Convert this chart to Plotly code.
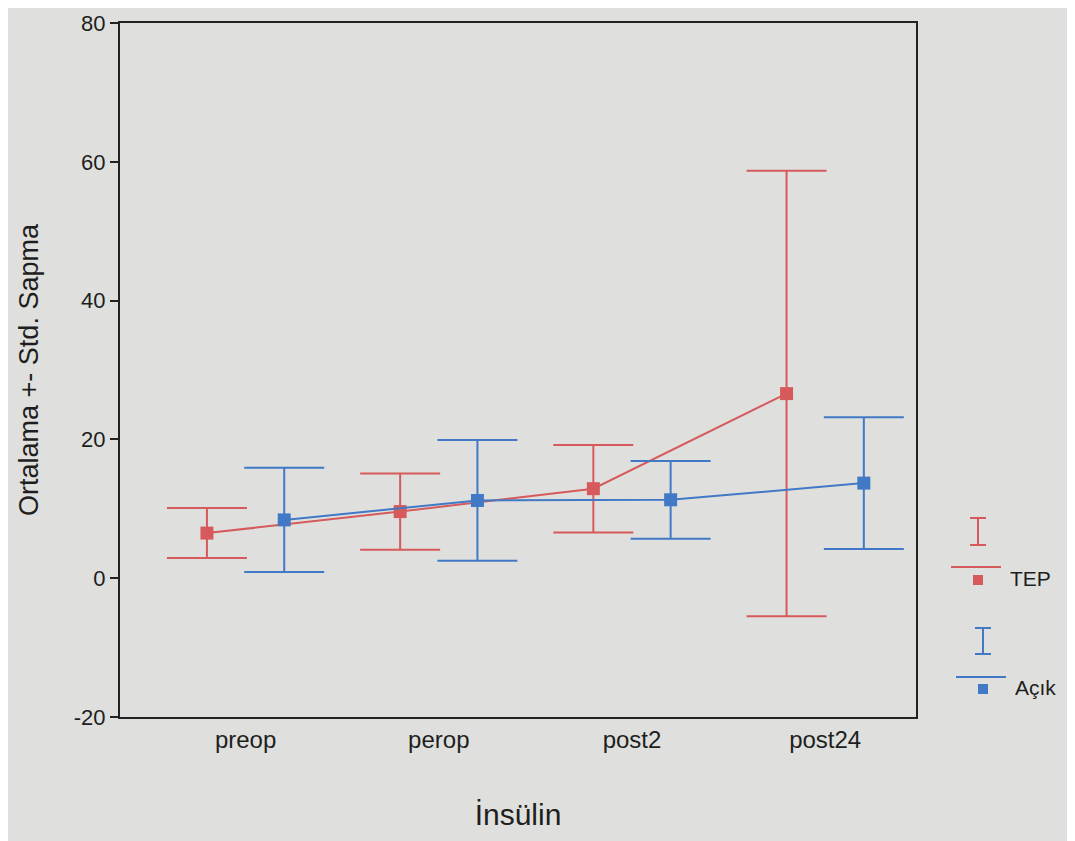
import plotly.graph_objects as go

categories = ["preop", "perop", "post2", "post24"]
tep_mean = [6.5, 9.6, 12.9, 26.6]
tep_sd = [3.6, 5.5, 6.3, 32.1]
acik_mean = [8.4, 11.2, 11.3, 13.7]
acik_sd = [7.5, 8.7, 5.6, 9.5]
y_ticks = [-20, 0, 20, 40, 60, 80]
y_tick_text = ["-20", "0", "20", "40", "60", "80"]

RED = "#d65a5c"
BLUE = "#4279c6"
BG = "#dfe0dd"
FONT = "Liberation Sans, Arial, sans-serif"
TXT = "#1e1e1e"

OFF = 8  # page body margin
W, H = 1075 - OFF, 841 - OFF
L, R, T, B = 120, 916, 23, 717  # plot box in page pixels


def px(xp, yp):
    return (xp - L) / (R - L), (B - yp) / (B - T)


idx = list(range(len(categories)))
fig = go.Figure()
for name, mean, sd, col, off in [("TEP", tep_mean, tep_sd, RED, -0.2),
                                 ("Açık", acik_mean, acik_sd, BLUE, 0.2)]:
    fig.add_trace(go.Scatter(
        x=[i + off for i in idx], y=mean, name=name, mode="lines+markers",
        line=dict(color=col, width=2),
        marker=dict(symbol="square", size=13, color=col),
        error_y=dict(type="data", array=sd, visible=True, color=col,
                     thickness=2, width=40),
        showlegend=False))

fig.update_layout(
    width=W, height=H,
    margin=dict(l=L - OFF, r=W - (R - OFF), t=T - OFF, b=H - (B - OFF)),
    paper_bgcolor=BG, plot_bgcolor=BG,
    font=dict(family=FONT, color=TXT),
    xaxis=dict(range=[-0.65, 3.47], tickvals=idx, ticktext=categories,
               showgrid=False, zeroline=False, ticks="", automargin=False,
               showline=True, linecolor="#222", linewidth=2, mirror=True,
               tickfont=dict(size=24, family=FONT, color=TXT),
               title=dict(text="İnsülin", font=dict(size=30, family=FONT, color=TXT), standoff=52)),
    yaxis=dict(range=[-20, 80], tickvals=y_ticks, ticktext=y_tick_text,
               showgrid=False, zeroline=False, ticklabeloverflow="allow", automargin=False,
               ticks="outside", ticklen=8, tickwidth=1.5, tickcolor="#222",
               showline=True, linecolor="#222", linewidth=2, mirror=True,
               tickfont=dict(size=22, family=FONT, color=TXT),
               title=dict(text="Ortalama +- Std. Sapma", font=dict(size=27, family=FONT, color=TXT), standoff=27)),
)

# manual legend
shapes = []
annots = []
for col, xc, ytop, ybot, yline, ysq, label, xt, yt in [
        (RED, 978, 518, 545, 567, 580, "TEP", 1008, 578),
        (BLUE, 983, 628, 654, 677, 689, "Açık", 1013, 687)]:
    for (x0, y0, x1, y1) in [(xc - 8, ytop, xc + 8, ytop), (xc - 8, ybot, xc + 8, ybot),
                             (xc, ytop, xc, ybot), (xc - 27, yline, xc + 23, yline)]:
        a, b = px(x0, y0)
        c, d = px(x1, y1)
        shapes.append(dict(type="line", xref="paper", yref="paper", x0=a, y0=b, x1=c, y1=d,
                           line=dict(color=col, width=2)))
    a, b = px(xc - 5, ysq - 5)
    c, d = px(xc + 5, ysq + 5)
    shapes.append(dict(type="rect", xref="paper", yref="paper", x0=a, y0=b, x1=c, y1=d,
                       fillcolor=col, line=dict(width=0)))
    tx, ty = px(xt, yt)
    annots.append(dict(text=label, xref="paper", yref="paper", x=tx, y=ty, xanchor="left",
                       yanchor="middle", showarrow=False, font=dict(size=21, family=FONT, color=TXT)))

fig.update_layout(shapes=shapes, annotations=annots)
fig.write_html("out.html")
